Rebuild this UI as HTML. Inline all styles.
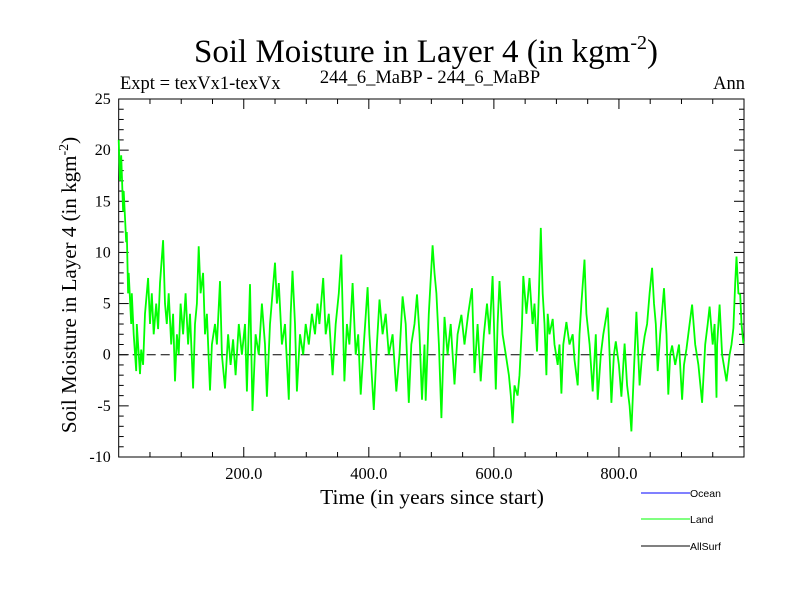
<!DOCTYPE html>
<html><head><meta charset="utf-8"><style>
body{margin:0;background:#fff;}
svg{display:block;}
.serif{font-family:"Liberation Serif",serif;fill:#000;}
.sans{font-family:"Liberation Sans",sans-serif;fill:#000;}
</style></head><body>
<svg id="chart" width="800" height="600" viewBox="0 0 800 600">
<rect width="800" height="600" fill="#fff"/>
<text class="serif" x="426" y="62" font-size="33" text-anchor="middle">Soil Moisture in Layer 4 (in kgm<tspan font-size="20" dy="-13">-2</tspan><tspan dy="13">)</tspan></text>
<text class="serif" x="120" y="89" font-size="18.5">Expt = texVx1-texVx</text>
<text class="serif" x="430" y="83" font-size="18.5" text-anchor="middle">244_6_MaBP - 244_6_MaBP</text>
<text class="serif" x="745" y="89" font-size="18.5" text-anchor="end">Ann</text>
<text class="serif" x="0" y="0" font-size="21" text-anchor="middle" transform="translate(76,285) rotate(-90)">Soil Moisture in Layer 4 (in kgm<tspan font-size="14" dy="-8">-2</tspan><tspan dy="8">)</tspan></text>
<text class="serif" x="432" y="504" font-size="21.5" text-anchor="middle">Time (in years since start)</text>
<g id="axes"></g>
<g id="series"></g>
<g>
<line x1="641" y1="493" x2="690" y2="493" stroke="#0000ff" stroke-width="1"/>
<text class="sans" x="690" y="497" font-size="10.5">Ocean</text>
<line x1="641" y1="519" x2="690" y2="519" stroke="#00ff00" stroke-width="1"/>
<text class="sans" x="690" y="523" font-size="10.5">Land</text>
<line x1="641" y1="546" x2="690" y2="546" stroke="#000" stroke-width="1"/>
<text class="sans" x="690" y="550" font-size="10.5">AllSurf</text>
</g>
</svg>
<script>
const years=[0,2,4,7,8,12,13,15,16,20,21,24,28,29,31,34,36,39,42,47,50,53,56,60,63,66,71,74,77,80,84,87,90,93,96,99,103,107,111,114,119,122,125,128,131,135,138,141,146,149,154,157,162,165,170,175,179,183,187,192,197,202,205,210,214,219,224,229,234,237,242,246,250,253,256,261,266,272,275,278,282,285,290,295,299,304,309,314,318,321,327,331,336,342,347,352,356,361,365,369,374,379,383,387,392,398,401,408,413,417,422,427,432,438,444,449,454,459,464,468,473,477,481,485,489,491,496,502,505,508,512,516,521,526,531,537,542,548,553,559,565,569,574,579,584,589,593,598,603,606,609,614,619,624,627,630,633,638,641,645,647,652,657,662,665,669,672,675,678,681,684,686,689,694,697,702,705,708,711,716,721,726,729,734,737,740,745,748,753,758,763,766,771,775,782,785,788,792,795,800,804,809,813,817,820,823,828,833,837,841,845,849,853,856,859,862,866,872,876,879,882,885,890,896,901,904,908,913,917,922,927,933,938,942,945,950,953,956,957,961,965,972,977,980,983,986,988,991,994,996,999];
const landValues=[21,17,19.5,14,16,11,12,6,8,3,6,2,-1.6,3,1,-1.9,0.5,-1,4,7.5,3,6,2,5,2.5,7,11.2,5,3,6,1,4,-2.6,2,0,5,2,6,1,4,-3.3,3,5,10.6,6,8,2,4,-3.5,1,3,1,7.2,0,-3.3,2,-1,1.5,-2,3,0,3,-3.6,6.9,-5.5,2,0,5,1,-4.1,3,6,9,5,7,1,3,-4.4,4,8.2,3,-3.6,2,0,3,1,4,2,5,3,7.5,2,4,-2,3,6,9.8,-2.6,3,1,7,0,2,-3.9,1,6.6,2,-5.4,1,5.4,2,4,0,2,-3.6,0,5.7,3,-4.7,1,3,5.9,2,-4.4,1,-4.5,4,10.7,8,6,1,-6.2,3.7,0,3,-2.9,2,3.9,1,4,6.5,-1.8,3,-2.6,2,5,2,7.7,-3.4,3,7.2,2,0,-2,-4,-6.7,-3,-4,-2,3,7.7,4,7.5,3,5,0.3,6,12.4,6,3,-2,4,2,3.5,1,-1,1,-3.8,1,3.2,1,2,-0.5,-3,2,5,9.3,4,1,-3.6,2,-4.4,0,2,4.6,0,-4.7,0,1.3,-1,-4.1,1.1,-3,-5,-7.5,-3,4.2,-3,0,1.8,3,6,8.5,5,3,-1.6,2,6.5,2,-3.9,0,0.9,-1,1,-4.4,-1,0.6,3,4.9,1,-1,-4.7,1,3,4.7,1,3,-4.2,1,4.9,0,-2.6,0,1,2.6,7,9.6,6,5.9,3,1.1];
const yTickValues=[25,20,15,10,5,0,-5,-10];
const xTickLabels=["200.0","400.0","600.0","800.0"];
const xTickYears=[200,400,600,800];

const NS='http://www.w3.org/2000/svg';
const L=118.7,R=744,T=99,B=457,xMin=0,xMax=1000,yMin=-10,yMax=25;
function xs(v){return L+(v-xMin)/(xMax-xMin)*(R-L);}
function ys(v){return B-(v-yMin)/(yMax-yMin)*(B-T);}
function mk(tag,attrs,parent){const e=document.createElementNS(NS,tag);for(const k in attrs)e.setAttribute(k,attrs[k]);parent.appendChild(e);return e;}
const axes=document.getElementById('axes');
const frame=mk('rect',{x:L,y:T,width:R-L,height:B-T,fill:'none',stroke:'#000','stroke-width':1},axes);


for(let v=yMin;v<=yMax;v++){
  const y=ys(v),len=(v%5===0)?10:5;
  const t1=mk('line',{x1:L,y1:y,x2:L+len,y2:y,stroke:'#000','stroke-width':1},axes);
  
  
  const t2=mk('line',{x1:R,y1:y,x2:R-len,y2:y,stroke:'#000','stroke-width':1},axes);
  
  
}
yTickValues.forEach(v=>{
  const t=mk('text',{x:L-8,y:ys(v)+5,'font-size':16,'text-anchor':'end',class:'serif'},axes);
  t.textContent=String(v);
  
  
});
for(let v=50;v<xMax;v+=50){
  const x=xs(v),len=(v%200===0)?10:5;
  const a=mk('line',{x1:x,y1:B,x2:x,y2:B-len,stroke:'#000','stroke-width':1},axes);
  
  
  const b=mk('line',{x1:x,y1:T,x2:x,y2:T+len,stroke:'#000','stroke-width':1},axes);
  
  
}
xTickYears.forEach((v,i)=>{
  const t=mk('text',{x:xs(v),y:479,'font-size':16.5,'text-anchor':'middle',class:'serif'},axes);
  t.textContent=xTickLabels[i];
  
  
});
const zl=mk('line',{x1:L,y1:ys(0),x2:R,y2:ys(0),stroke:'#000','stroke-width':1,'stroke-dasharray':'9,5'},axes);


const series=document.getElementById('series');
const pts=years.map((yr,i)=>xs(yr).toFixed(1)+','+ys(landValues[i]).toFixed(1)).join(' ');
const pl=mk('polyline',{points:pts,fill:'none',stroke:'#00ff00','stroke-width':1.8,'stroke-linejoin':'miter'},series);


</script>
</body></html>
